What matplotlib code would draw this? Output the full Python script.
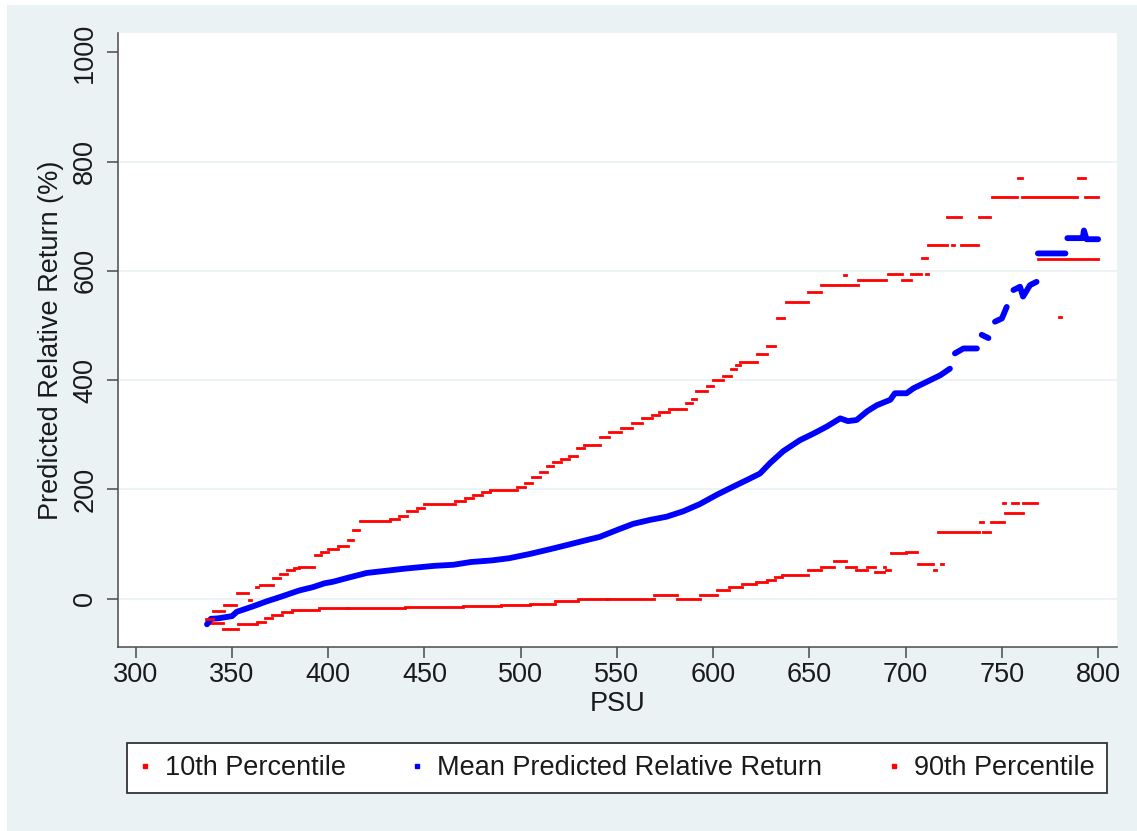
import numpy as np
import matplotlib
matplotlib.use("Agg")
import matplotlib.pyplot as plt
from matplotlib.lines import Line2D
from matplotlib.patches import Rectangle

plt.rcParams['font.family'] = ['Liberation Sans', 'DejaVu Sans']

# ---------------- data ----------------
# 10th percentile: runs of constant value (PSU start, PSU end, value)
p10_start = [336.5, 345.5, 353, 363, 367, 371, 376, 381, 395, 410, 440, 470, 490, 505, 518, 530,
             545, 569, 581, 593, 602, 608, 615, 622, 628, 632, 636, 649, 656, 663, 669, 674, 680,
             684, 688.5, 690, 692.5, 700, 706.5, 714.5, 718.5, 717, 740, 738.5, 744.5, 751.5,
             750.5, 755, 761, 768.5, 779.5]
p10_end = [345.5, 353, 363, 367, 371, 376, 381, 395, 410, 440, 470, 490, 505, 518, 530, 545,
           569, 581, 593, 602, 608, 615, 622, 628, 632, 636, 649, 656, 663, 669, 674, 680, 684,
           688.5, 689.5, 692, 700, 706, 714, 715.5, 719.5, 738, 744, 740, 751, 761,
           751.5, 758.5, 768, 800, 780.5]
p10_val = [-44, -56, -47, -42, -36, -30, -24, -20, -18, -17, -16, -14, -12, -9, -5, -1,
           0, 6, 0, 6, 16, 22, 26, 30, 35, 40, 43, 52, 58, 69, 58, 53, 58,
           49, 58, 52, 83, 86, 64, 52, 64, 122, 122, 141, 141, 156,
           175, 175, 175, 622, 516]

# 90th percentile: runs of constant value
p90_start = [336.5, 340, 346, 352.5, 359, 362.5, 364.5, 371.5, 375, 378.5, 382, 385, 393, 396,
             400, 405, 410, 413, 416.5, 432, 437, 441, 446, 450, 466, 471, 475, 480, 484, 498,
             502, 506, 510, 513.5, 517, 521, 525, 529, 533, 541, 546, 552, 558, 563, 568, 572,
             577, 586, 589, 591, 597, 600, 605, 609, 612, 614, 623, 628, 633, 638, 649.5, 656,
             668, 669, 675, 691, 698, 703, 708.3, 710.5, 711.7, 721.3, 724.2, 729, 738.2, 744.7,
             758.5, 760.3, 789.7, 793]
p90_end = [340, 346, 352, 358.5, 360, 363.5, 371.5, 375, 378.5, 382, 385, 392.5, 396, 400,
           405, 410, 413, 416, 432, 437, 441, 446, 450, 466, 471, 475, 480, 484, 498, 502,
           506, 510, 513.5, 517, 521, 525, 529, 533, 541, 546, 552, 558, 563, 568, 572, 577,
           586, 589, 591, 597, 600, 605, 609, 612, 614, 623, 628, 632, 637, 649, 656, 668,
           669, 675, 690, 698, 703, 708, 711, 711.5, 721.3, 729, 725.2, 737.7, 743.8, 757.7,
           760.3, 788.8, 793, 800]
p90_val = [-38, -22, -11, 11, -2, 22, 25, 38, 45, 52, 56, 58, 80, 85,
           90, 97, 108, 125, 142, 146, 152, 160, 166, 174, 178, 184, 190, 195, 199, 205,
           212, 222, 232, 242, 250, 255, 262, 275, 281, 296, 305, 312, 322, 330, 336, 342,
           348, 358, 366, 380, 390, 400, 408, 420, 428, 433, 447, 462, 513, 543, 562, 574,
           592, 574, 583, 594, 583, 594, 623, 594, 647, 698, 647, 647, 698, 736,
           771, 736, 771, 736]

# mean predicted relative return
mean_psu = [337, 339, 343, 350, 352.5, 356, 361, 368, 375, 380, 385, 392, 398, 402.6, 410,
            420, 430, 440, 455, 465, 474, 485, 494, 505, 517, 525, 534, 541, 551, 558.5, 567,
            575.8, 584.5, 593, 601.8, 610.4, 618, 624.3, 629.5, 636.4, 645, 652, 659, 666,
            670, 674.5, 680, 685, 692, 694.4, 700.5, 704, 711, 718, 723, 725.6, 730, 737,
            739.5, 743, 746.4, 750, 752.5, 756, 759.4, 761, 764.6, 768,
            768.7, 783, 784, 792, 792.6, 794, 800]
mean_val = [-47, -37, -36, -32, -24, -20, -14, -5, 3, 9, 15, 21, 28, 31, 38,
            47, 51, 55, 60, 62, 67, 70, 74, 82, 92, 99, 107, 113, 127, 137, 144,
            150, 160, 173, 190, 205, 218, 229, 248, 270, 290, 302, 315, 330,
            325, 327, 343, 354, 364, 376, 376, 385, 397, 409, 421, 449, 458, 458,
            483, 477, 507, 513, 534, 565, 571, 553, 574, 580,
            632, 632, 660, 660, 674, 658, 658]

x_ticks = [300, 350, 400, 450, 500, 550, 600, 650, 700, 750, 800]
y_ticks = [0, 200, 400, 600, 800, 1000]
y_grid = [0, 200, 400, 600, 800]

labels = ["10th Percentile", "Mean Predicted Relative Return", "90th Percentile"]

# ---------------- figure ----------------
W, H = 1137, 831
BG = "#EAF2F3"
TXT = "#1a1a1a"
AX = "#4a4a4a"
FS = 19.5

fig = plt.figure(figsize=(W / 100, H / 100), dpi=100, facecolor="white")
fig.patches.append(Rectangle((7 / W, 0), 1 - 7 / W, 1 - 5 / H, transform=fig.transFigure,
                             facecolor=BG, edgecolor="none", zorder=-10))

ax = fig.add_axes([117.7 / W, 1 - 646.7 / H, (1117 - 117.7) / W, (646.7 - 33.3) / H])
ax.set_facecolor("white")
ax.set_xlim(290.6, 809.8)
ax.set_ylim(-88, 1035)

for g in y_grid:
    ax.axhline(g, color=BG, lw=1.3, zorder=0)

# series, drawn in Stata order: p10, mean, p90
ax.hlines(p10_val, p10_start, p10_end, colors="#ff0000", lw=2.0, capstyle="projecting", zorder=2)

# mean: break the line where the estimate jumps (gaps in the original scatter)
mx = np.asarray(mean_psu, float)
my = np.asarray(mean_val, float)
brk = np.where(np.abs(np.diff(my)) > 24)[0] + 1
mx = np.insert(mx, brk, np.nan)
my = np.insert(my, brk, np.nan)
ax.plot(mx, my, color="#0000ff", lw=4.2, solid_capstyle="round", solid_joinstyle="round", zorder=3)

ax.hlines(p90_val, p90_start, p90_end, colors="#ff0000", lw=2.0, capstyle="projecting", zorder=4)

# axes styling
for s in ["top", "right"]:
    ax.spines[s].set_visible(False)
for s in ["left", "bottom"]:
    ax.spines[s].set_color(AX)
    ax.spines[s].set_linewidth(1.1)

ax.set_xticks(x_ticks)
ax.set_yticks(y_ticks)
ax.tick_params(axis="both", length=8, width=1.1, color=AX, labelsize=FS, labelcolor=TXT)
ax.tick_params(axis="x", pad=3)
ax.tick_params(axis="y", pad=6)
for t in ax.get_yticklabels():
    t.set_rotation(90)
    t.set_va("center")

ax.set_xlabel("PSU", fontsize=FS, color=TXT, labelpad=2)
ax.set_ylabel("Predicted Relative Return (%)", fontsize=FS, color=TXT, labelpad=6)

handles = [
    Line2D([], [], marker="s", ls="none", color="#ff0000", markersize=2.2),
    Line2D([], [], marker="s", ls="none", color="#0000ff", markersize=3.2),
    Line2D([], [], marker="s", ls="none", color="#ff0000", markersize=2.2),
]
leg = fig.legend(handles, labels, loc="center", ncol=3, mode="expand",
                 bbox_to_anchor=(127 / W, 1 - 795 / H, 980 / W, 54 / H),
                 frameon=True, fancybox=False, shadow=False, framealpha=1,
                 borderpad=0.45, handlelength=0.4, handletextpad=0.55,
                 columnspacing=1.8, borderaxespad=0, prop={"size": FS})
leg.get_frame().set_edgecolor("#333333")
leg.get_frame().set_linewidth(1.3)
for t in leg.get_texts():
    t.set_color(TXT)

fig.savefig("out.png", dpi=100, facecolor=fig.get_facecolor())
